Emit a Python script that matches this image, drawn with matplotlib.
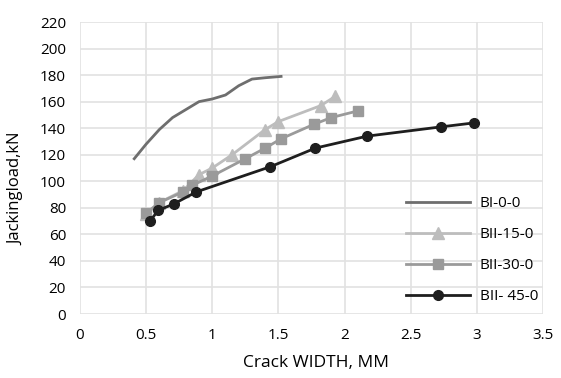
import numpy as np
import matplotlib.pyplot as plt

plt.rcParams['font.family'] = ['Open Sans', 'DejaVu Sans']

# crack width (mm) vs jacking load (kN)
bi_x = [0.41, 0.5, 0.6, 0.7, 0.8, 0.9, 1.0, 1.1, 1.2, 1.3, 1.4, 1.52]
bi_y = [117, 128, 139, 148, 154, 160, 162, 165, 172, 177, 178, 179]

b15_x = [0.5, 0.6, 0.78, 0.9, 1.0, 1.15, 1.4, 1.5, 1.82, 1.93]
b15_y = [75, 84, 93, 105, 110, 120, 139, 145, 157, 164]

b30_x = [0.5, 0.6, 0.78, 0.85, 1.0, 1.25, 1.4, 1.52, 1.77, 1.9, 2.1]
b30_y = [76, 84, 92, 97, 104, 117, 125, 132, 143, 148, 153]

b45_x = [0.53, 0.59, 0.71, 0.88, 1.44, 1.78, 2.17, 2.73, 2.98]
b45_y = [70, 78, 83, 92, 111, 125, 134, 141, 144]

fig = plt.figure(figsize=(5.61, 3.78), dpi=100)
ax = fig.add_axes([80 / 561, 1 - 314 / 378, 463 / 561, 292 / 378])

ax.plot(bi_x, bi_y, color='#6e6e6e', lw=2, label='BI-0-0')
ax.plot(b15_x, b15_y, color='#bdbdbd', lw=2, marker='^', ms=8, label='BII-15-0')
ax.plot(b30_x, b30_y, color='#9a9a9a', lw=2, marker='s', ms=7, label='BII-30-0')
ax.plot(b45_x, b45_y, color='#1e1e1e', lw=2, marker='o', ms=7, label='BII- 45-0')

ax.set_xlim(0, 3.5)
ax.set_ylim(0, 220)
ax.set_xticks(np.arange(0, 3.51, 0.5))
ax.set_xticklabels(['0', '0.5', '1', '1.5', '2', '2.5', '3', '3.5'])
ax.set_yticks(np.arange(0, 221, 20))
ax.grid(True, color='#e2e2e2', lw=1.2)
ax.set_axisbelow(True)
for s in ax.spines.values():
    s.set_visible(False)
ax.tick_params(length=0, labelsize=11, pad=10)

ax.set_xlabel('Crack WIDTH, MM', fontsize=12.5)
ax.set_ylabel('Jackingload,kN', fontsize=12)
ax.xaxis.set_label_coords(0.51, -0.14)
ax.yaxis.set_label_coords(-0.12, 0.428)

ax.legend(loc='upper left', bbox_to_anchor=(0.675, 0.45), frameon=False,
          fontsize=11, labelspacing=1.05, handlelength=4.2, handletextpad=0.6)

fig.savefig('out.png', dpi=100)
